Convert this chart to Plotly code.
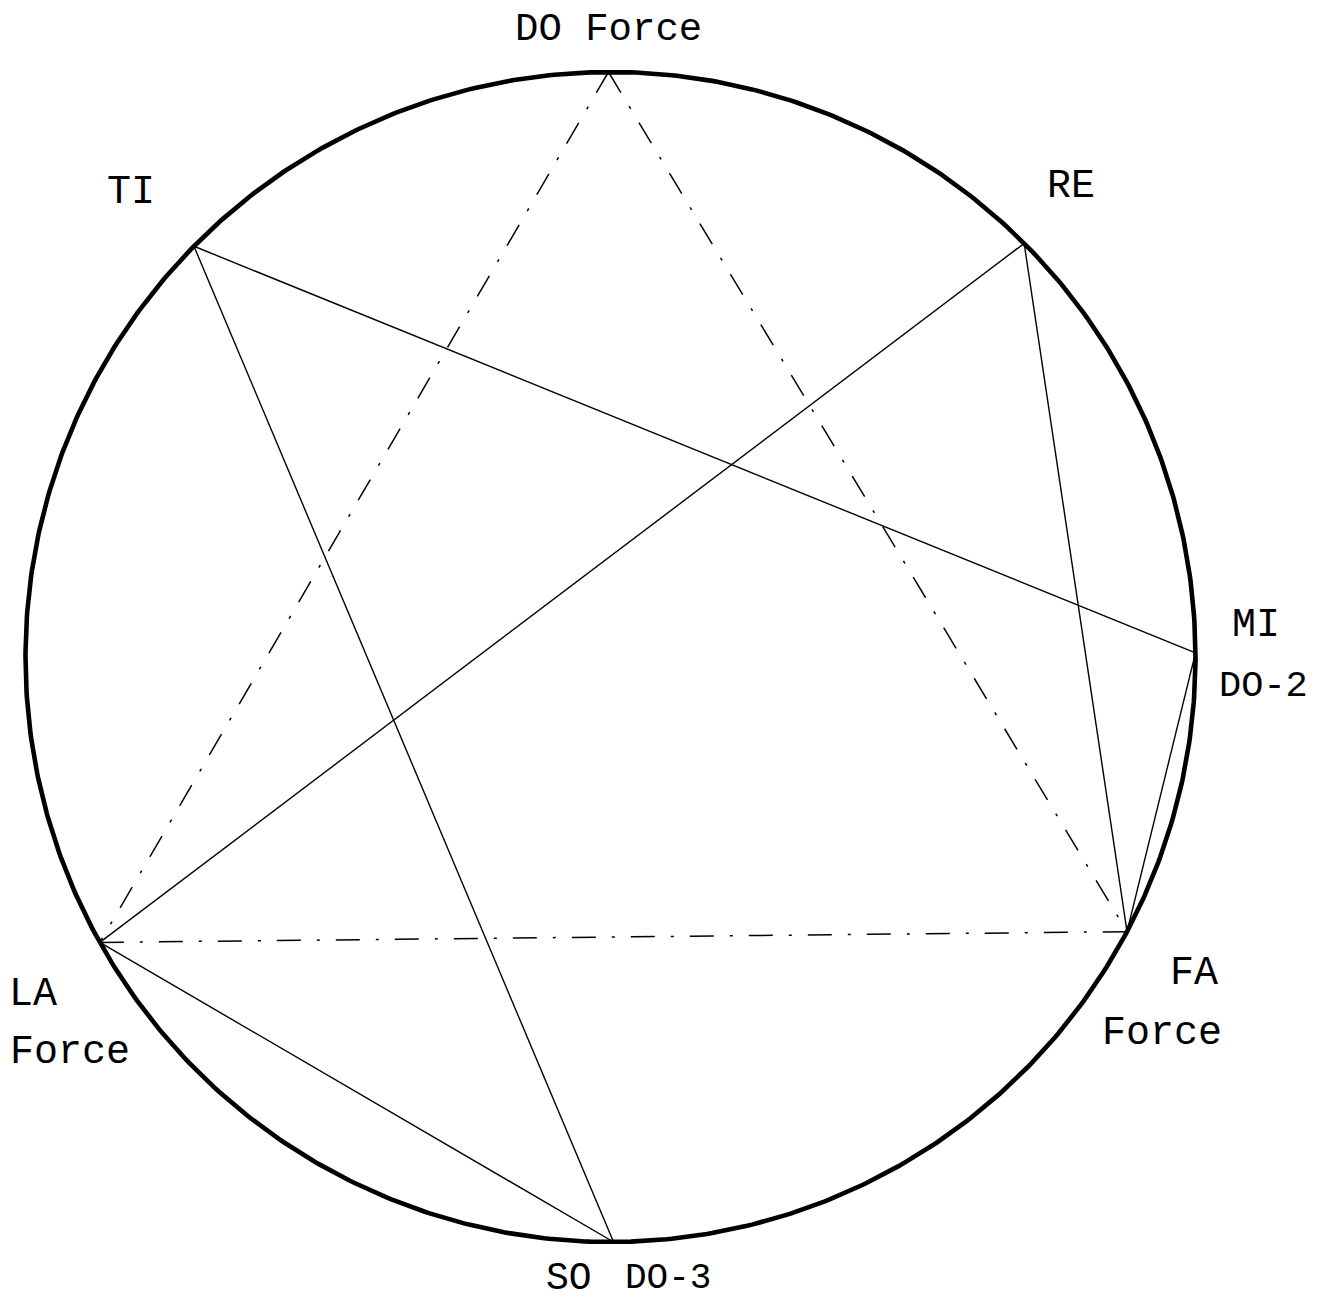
import numpy as np
import plotly.graph_objects as go

# ---- data ----
notes = ["DO", "RE", "MI", "FA", "SO", "LA", "TI"]
angles_deg = [90.2, 45.0, 0.4, -28.0, -89.7, -150.8, 135.4]
solid_edges = [("TI", "MI"), ("TI", "SO"), ("RE", "LA"), ("RE", "FA"), ("MI", "FA"), ("LA", "SO")]
dashdot_edges = [("DO", "LA"), ("DO", "FA"), ("LA", "FA")]
label_texts = ["DO Force", "TI", "RE", "MI", "DO-2", "FA", "Force", "LA", "Force", "SO", "DO-3"]

# ---- layout / style ----
OFF = 8                      # default page body margin
W, H = 1319 - 2 * OFF, 1300 - OFF
CX, CY, R = 610.5 - OFF, 657.0 - OFF, 585.0   # centre & radius in figure pixels


def px_to_data(px, py):
    # px, py given in page pixels
    return (px - OFF - CX) / R, (CY - (py - OFF)) / R


label_px = [(608, 30), (131, 192), (1071, 186), (1256, 625), (1263, 686),
            (1194, 973), (1162, 1033), (33, 994), (70, 1052), (569, 1278), (668, 1278)]
label_sizes = [39, 40, 40, 40, 37, 40, 40, 40, 40, 38, 36]

pos = {n: (np.cos(np.radians(a)), np.sin(np.radians(a))) for n, a in zip(notes, angles_deg)}

fig = go.Figure()

# outer circle
t = np.linspace(0, 2 * np.pi, 721)
fig.add_trace(go.Scatter(x=np.cos(t), y=np.sin(t), mode="lines",
                         line=dict(color="black", width=4.6), hoverinfo="skip", showlegend=False))

for a, b in solid_edges:
    fig.add_trace(go.Scatter(x=[pos[a][0], pos[b][0]], y=[pos[a][1], pos[b][1]], mode="lines",
                             line=dict(color="black", width=1.4), showlegend=False))
for a, b in dashdot_edges:
    fig.add_trace(go.Scatter(x=[pos[a][0], pos[b][0]], y=[pos[a][1], pos[b][1]], mode="lines",
                             line=dict(color="black", width=1.5, dash="24px,16px,3px,16px"),
                             showlegend=False))

for txt, (px, py), fs in zip(label_texts, label_px, label_sizes):
    x, y = px_to_data(px, py)
    fig.add_annotation(x=x, y=y, text=txt, showarrow=False, xanchor="center", yanchor="middle",
                       font=dict(family="Liberation Mono, Courier New, monospace", size=fs, color="black"))

x0, ytop = px_to_data(OFF, OFF)
x1, ybot = px_to_data(OFF + W, OFF + H)

fig.update_layout(
    width=W, height=H, margin=dict(l=0, r=0, t=0, b=0),
    paper_bgcolor="white", plot_bgcolor="white",
    xaxis=dict(range=[x0, x1], visible=False, fixedrange=True),
    yaxis=dict(range=[ybot, ytop], visible=False, fixedrange=True),
    showlegend=False,
)

fig.write_html("out.html")
